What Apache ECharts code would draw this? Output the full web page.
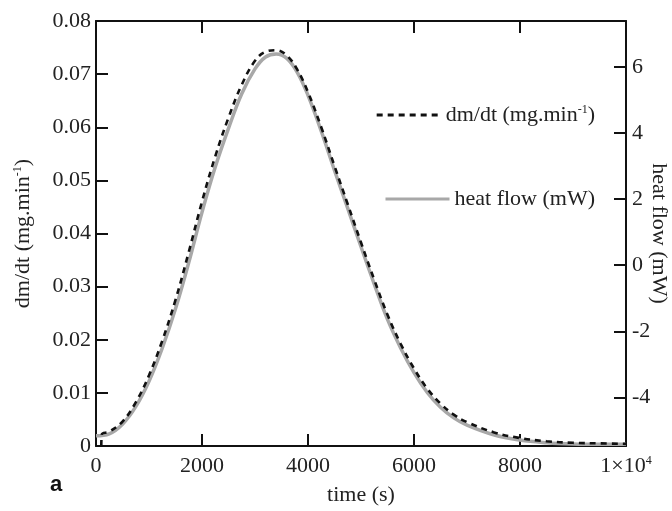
<!DOCTYPE html>
<html>
<head>
<meta charset="utf-8">
<script src="https://cdn.jsdelivr.net/npm/echarts@6/dist/echarts.min.js"></script>
<style>html,body{margin:0;padding:0;background:#fff}#c{width:672px;height:511px}</style>
</head>
<body>
<div id="c"></div>
<script>
// time (s) for the dm/dt curve
const dmTime = [100, 110, 250, 500, 750, 1000, 1250, 1500, 1750, 2000, 2250, 2500, 2750, 3000, 3200, 3400, 3600, 3800, 4000, 4250, 4500, 4750, 5000, 5250, 5500, 5750, 6000, 6250, 6500, 6750, 7000, 7500, 8000, 8500, 9000, 9500, 10000];
// dm/dt (mg.min-1)
const dmValues = [0, 0.0022, 0.0027, 0.0046, 0.0082, 0.0133, 0.0198, 0.0275, 0.0365, 0.0460, 0.0545, 0.0618, 0.0680, 0.0725, 0.0742, 0.0745, 0.0735, 0.0708, 0.0666, 0.0600, 0.0527, 0.0455, 0.0383, 0.0313, 0.0247, 0.0192, 0.0146, 0.0108, 0.0080, 0.0059, 0.0045, 0.0026, 0.0015, 0.0009, 0.0006, 0.0005, 0.0004];
// time (s) for the heat flow curve
const hfTime = [0, 250, 500, 750, 1000, 1250, 1500, 1750, 2000, 2250, 2500, 2750, 3000, 3200, 3400, 3600, 3800, 4000, 4250, 4500, 4750, 5000, 5250, 5500, 5750, 6000, 6250, 6500, 6750, 7000, 7500, 8000, 8500, 9000, 9500, 10000];
// heat flow (mW)
const hfValues = [-5.16, -5.10, -4.81, -4.28, -3.51, -2.51, -1.32, 0.08, 1.60, 2.97, 4.14, 5.19, 5.94, 6.30, 6.39, 6.26, 5.83, 5.14, 4.06, 2.87, 1.72, 0.56, -0.57, -1.64, -2.51, -3.25, -3.85, -4.30, -4.62, -4.84, -5.13, -5.29, -5.37, -5.41, -5.42, -5.42];
// tick values
const xTicks = [0, 2000, 4000, 6000, 8000, 10000];
const leftTicks = [0, 0.01, 0.02, 0.03, 0.04, 0.05, 0.06, 0.07, 0.08];
const rightTicks = [-4, -2, 0, 2, 4, 6];

const FONT = 'Liberation Serif';
const FS = 22;
const supStyle = { fontFamily: FONT, fontSize: 12, color: '#222', padding: [0, 0, 10, 0] };
const chart = echarts.init(document.getElementById('c'), null, { renderer: 'canvas' });

const dmData = dmTime.map((t, i) => [t, dmValues[i]]);
const hfData = hfTime.map((t, i) => [t, hfValues[i]]);

const axisLine = { show: true, onZero: false, lineStyle: { color: '#111', width: 2 } };
const axisTick = { show: true, inside: true, length: 12, lineStyle: { color: '#111', width: 2 } };

chart.setOption({
  animation: false,
  backgroundColor: '#fff',
  grid: { left: 96, right: 46, top: 21, bottom: 65, containLabel: false, outerBoundsMode: 'none' },
  legend: [
    {
      data: ['dm/dt'], right: 72, top: 99, itemWidth: 64, itemHeight: 14, itemGap: 6,
      itemStyle: { opacity: 0 }, lineStyle: { width: 3 },
      formatter: () => 'dm/dt (mg.min{sup|-1})',
      textStyle: { fontFamily: FONT, fontSize: FS, color: '#222', rich: { sup: supStyle } }
    },
    {
      data: ['heat flow'], right: 72, top: 183, itemWidth: 64, itemHeight: 14, itemGap: 7,
      itemStyle: { opacity: 0 }, lineStyle: { width: 3 },
      formatter: () => 'heat flow (mW)',
      textStyle: { fontFamily: FONT, fontSize: FS, color: '#222' }
    }
  ],
  xAxis: [
    {
      type: 'value', min: 0, max: 10000, interval: 2000, position: 'bottom',
      axisLine, axisTick, splitLine: { show: false },
      axisLabel: {
        fontFamily: FONT, fontSize: FS, color: '#222', margin: 9,
        customValues: xTicks,
        formatter: v => v === 10000 ? '1×10{sup|4}' : String(v),
        rich: { sup: supStyle }
      },
      name: 'time (s)', nameLocation: 'middle', nameGap: 38, nameMoveOverlap: false,
      nameTextStyle: { fontFamily: FONT, fontSize: FS, color: '#222' }
    },
    {
      type: 'value', min: 0, max: 10000, interval: 2000, position: 'top',
      axisLine, axisTick, axisLabel: { show: false }, splitLine: { show: false }
    }
  ],
  yAxis: [
    {
      type: 'value', min: 0, max: 0.08, interval: 0.01, position: 'left',
      axisLine, axisTick, splitLine: { show: false },
      axisLabel: {
        fontFamily: FONT, fontSize: FS, color: '#222', margin: 5,
        customValues: leftTicks,
        formatter: v => v === 0 ? '0' : v.toFixed(2)
      },
      name: 'dm/dt (mg.min{sup|-1})', nameLocation: 'middle', nameGap: 62, nameMoveOverlap: false,
      nameTextStyle: { fontFamily: FONT, fontSize: FS, color: '#222', rich: { sup: supStyle } }
    },
    {
      type: 'value', min: -5.47, max: 7.39, position: 'right',
      axisLine, splitLine: { show: false },
      axisTick: Object.assign({}, axisTick, { customValues: rightTicks }),
      axisLabel: {
        fontFamily: FONT, fontSize: FS, color: '#222', margin: 6,
        customValues: rightTicks,
        formatter: v => String(v)
      },
      name: 'heat flow (mW)', nameLocation: 'middle', nameGap: 22, nameRotate: -90, nameMoveOverlap: false,
      nameTextStyle: { fontFamily: FONT, fontSize: FS, color: '#222' }
    }
  ],
  series: [
    {
      name: 'heat flow', type: 'line', xAxisIndex: 0, yAxisIndex: 1,
      data: hfData, smooth: 0.4, showSymbol: false, symbol: 'none',
      lineStyle: { color: '#a8a8a8', width: 3.5, type: 'solid' },
      itemStyle: { color: '#a8a8a8' }
    },
    {
      name: 'dm/dt', type: 'line', xAxisIndex: 0, yAxisIndex: 0,
      data: dmData, smooth: 0.4, showSymbol: false, symbol: 'none',
      lineStyle: { color: '#111', width: 2.6, type: [6, 5] },
      itemStyle: { color: '#111' }
    }
  ],
  graphic: [
    { type: 'text', left: 50, top: 474, style: { text: 'a', font: 'bold 22px "Liberation Sans"', fill: '#111' } }
  ]
});
</script>
</body>
</html>
